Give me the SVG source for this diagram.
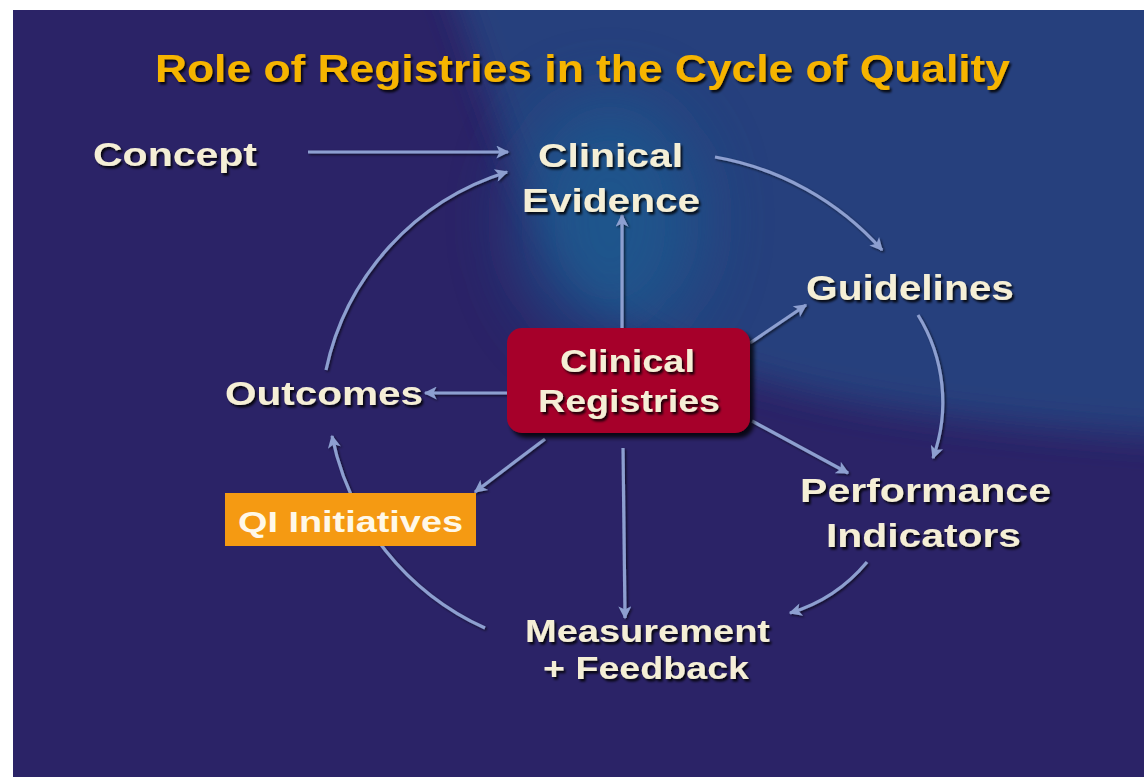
<svg xmlns="http://www.w3.org/2000/svg" width="1144" height="777" viewBox="0 0 1144 777">
<defs>
<style>
.lbl{font-family:"Liberation Sans",Arial,sans-serif;font-weight:bold;fill:#f5efd6;filter:url(#ts)}
.title{font-family:"Liberation Sans",Arial,sans-serif;font-weight:bold;fill:#f6b400;filter:url(#ts)}
.qi{font-family:"Liberation Sans",Arial,sans-serif;font-weight:bold;fill:#fff8e8}
.con{fill:none;stroke:#8d9fd0;stroke-width:3.2;marker-end:url(#ah)}
</style>
<filter id="ts" x="-10%" y="-30%" width="120%" height="160%">
<feDropShadow dx="2" dy="2.5" stdDeviation="1" flood-color="#000" flood-opacity="0.85"/>
</filter>
<filter id="bs" x="-10%" y="-10%" width="125%" height="130%">
<feDropShadow dx="4" dy="5" stdDeviation="2" flood-color="#000" flood-opacity="0.8"/>
</filter>
<filter id="ls" x="-10%" y="-10%" width="120%" height="120%">
<feDropShadow dx="1.5" dy="1.5" stdDeviation="0.8" flood-color="#000" flood-opacity="0.6"/>
</filter>
<filter id="blur" x="-30%" y="-30%" width="160%" height="160%">
<feGaussianBlur stdDeviation="16"/>
</filter>
<filter id="blur2" x="-50%" y="-50%" width="200%" height="200%">
<feGaussianBlur stdDeviation="35"/>
</filter>
<clipPath id="bg"><rect x="13" y="10" width="1131" height="767"/></clipPath>
<marker id="ah" viewBox="0 0 10 10" refX="9" refY="5" markerWidth="16" markerHeight="13" markerUnits="userSpaceOnUse" orient="auto">
<path d="M0,0 L10,5 L0,10 L2.5,5 Z" fill="#8d9fd0"/>
</marker>
</defs>
<rect x="0" y="0" width="1144" height="777" fill="#ffffff"/>
<g id="background" clip-path="url(#bg)">
<rect x="13" y="10" width="1131" height="767" fill="#2b2367"/>
<path d="M440,-40 C500,110 520,250 640,330 C760,400 920,420 1200,440 L1200,-40 Z" fill="#253f7d" filter="url(#blur)"/>
<ellipse cx="610" cy="220" rx="90" ry="120" fill="#1e5a90" opacity="0.8" filter="url(#blur2)"/>
</g>
<g id="title">
<text class="title" x="155" y="82" font-size="38" textLength="855" lengthAdjust="spacingAndGlyphs">Role of Registries in the Cycle of Quality</text>
</g>
<g id="connectors" filter="url(#ls)">
<path class="con" d="M308,152 L508,152"/>
<path class="con" d="M715,157 A290,290 0 0 1 882,250"/>
<path class="con" d="M918,315 A165,165 0 0 1 933,458"/>
<path class="con" d="M867,562 A160,160 0 0 1 790,613"/>
<path class="con" d="M485,628 A270,270 0 0 1 332,436"/>
<path class="con" d="M326,370 A265,265 0 0 1 507,172"/>
<path class="con" d="M622,330 L622,215"/>
<path class="con" d="M750,343 L806,305"/>
<path class="con" d="M507,393 L425,393"/>
<path class="con" d="M545,439 L475,492"/>
<path class="con" d="M752,421 L848,473"/>
<path class="con" d="M623,448 L625,618"/>
</g>
<g id="node-concept">
<text class="lbl" x="93" y="166" font-size="34" textLength="164" lengthAdjust="spacingAndGlyphs">Concept</text>
</g>
<g id="node-clinical-evidence">
<text class="lbl" x="538" y="167" font-size="33" textLength="145" lengthAdjust="spacingAndGlyphs">Clinical</text>
<text class="lbl" x="522" y="212" font-size="33" textLength="178" lengthAdjust="spacingAndGlyphs">Evidence</text>
</g>
<g id="node-guidelines">
<text class="lbl" x="806" y="300" font-size="35" textLength="208" lengthAdjust="spacingAndGlyphs">Guidelines</text>
</g>
<g id="node-performance-indicators">
<text class="lbl" x="800" y="502" font-size="34" textLength="251" lengthAdjust="spacingAndGlyphs">Performance</text>
<text class="lbl" x="826" y="547" font-size="34" textLength="195" lengthAdjust="spacingAndGlyphs">Indicators</text>
</g>
<g id="node-measurement-feedback">
<text class="lbl" x="525" y="642" font-size="32" textLength="245" lengthAdjust="spacingAndGlyphs">Measurement</text>
<text class="lbl" x="543" y="679" font-size="32" textLength="206" lengthAdjust="spacingAndGlyphs">+ Feedback</text>
</g>
<g id="node-outcomes">
<text class="lbl" x="225" y="405" font-size="34" textLength="198" lengthAdjust="spacingAndGlyphs">Outcomes</text>
</g>
<g id="node-qi-initiatives">
<rect x="225" y="493" width="251" height="53" fill="#f59a12"/>
<text class="qi" x="238" y="532" font-size="30" textLength="225" lengthAdjust="spacingAndGlyphs">QI Initiatives</text>
</g>
<g id="node-clinical-registries">
<rect x="507" y="328" width="243" height="105" rx="15" fill="#a6002a" filter="url(#bs)"/>
<text class="lbl" x="560" y="372" font-size="31" textLength="135" lengthAdjust="spacingAndGlyphs">Clinical</text>
<text class="lbl" x="538" y="412" font-size="31" textLength="182" lengthAdjust="spacingAndGlyphs">Registries</text>
</g>
</svg>
